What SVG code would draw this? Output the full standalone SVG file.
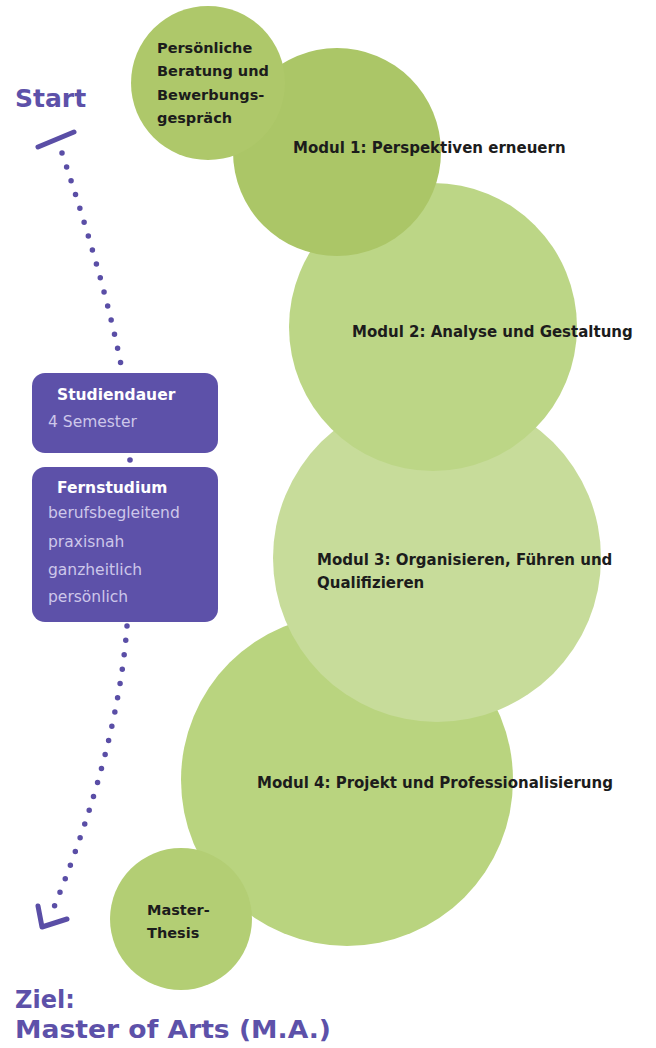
<svg xmlns="http://www.w3.org/2000/svg" width="656" height="1048" viewBox="0 0 656 1048">
<style>
.lbl{font-family:"DejaVu Sans","Liberation Sans",sans-serif;font-weight:bold;font-size:15px;fill:#1c1c1c}
.sm{font-size:14.5px}
.big{font-family:"DejaVu Sans","Liberation Sans",sans-serif;font-weight:bold;fill:#5d51a9}
.bh{font-family:"DejaVu Sans","Liberation Sans",sans-serif;font-weight:bold;font-size:15.5px;fill:#ffffff}
.bt{font-family:"DejaVu Sans","Liberation Sans",sans-serif;font-size:15.5px;fill:#cdc7ea}
.box{fill:#5d51a9}
.dots{fill:none;stroke:#5a4ea6;stroke-width:5.5;stroke-linecap:round;stroke-dasharray:0 14.5}
.bar{fill:none;stroke:#5a4ea6;stroke-width:5;stroke-linecap:round;stroke-linejoin:round}
</style>
<rect width="656" height="1048" fill="#ffffff"/>

<g id="modul4"><circle cx="347" cy="780" r="166" fill="#b9d47f"/></g>
<g id="modul3"><circle cx="437" cy="558" r="164" fill="#c7dc9a"/></g>
<g id="modul2"><circle cx="433" cy="327" r="144" fill="#bcd686"/></g>
<g id="modul1"><circle cx="337" cy="152" r="104" fill="#abc667"/></g>
<g id="beratung"><circle cx="208" cy="83" r="77" fill="#aec86a"/></g>
<g id="thesis"><circle cx="181" cy="919" r="71" fill="#b3ce74"/></g>

<g id="labels">
<text class="lbl sm" x="157" y="53">Persönliche</text>
<text class="lbl sm" x="157" y="76">Beratung und</text>
<text class="lbl sm" x="157" y="100">Bewerbungs-</text>
<text class="lbl sm" x="157" y="123">gespräch</text>
<text class="lbl" x="293" y="153">Modul 1: Perspektiven erneuern</text>
<text class="lbl" x="352" y="337">Modul 2: Analyse und Gestaltung</text>
<text class="lbl" x="317" y="565">Modul 3: Organisieren, Führen und</text>
<text class="lbl" x="317" y="588">Qualifizieren</text>
<text class="lbl" x="257" y="788">Modul 4: Projekt und Professionalisierung</text>
<text class="lbl sm" x="147" y="915">Master-</text>
<text class="lbl sm" x="147" y="938">Thesis</text>
</g>

<g id="connectors">
<line class="bar" x1="38" y1="147" x2="74" y2="132"/>
<path class="dots" d="M62 153 Q106 285 122 370"/>
<circle cx="130" cy="460" r="2.8" fill="#5a4ea6"/>
<path class="dots" d="M127 626 C120 720 90 820 52 912"/>
<polyline class="bar" points="38,906 42,927 67,919"/>
</g>

<g id="studiendauer">
<rect class="box" x="32" y="373" width="186" height="80" rx="13"/>
<text class="bh" x="57" y="400">Studiendauer</text>
<text class="bt" x="48" y="427">4 Semester</text>
</g>
<g id="fernstudium">
<rect class="box" x="32" y="467" width="186" height="155" rx="13"/>
<text class="bh" x="57" y="493">Fernstudium</text>
<text class="bt" x="48" y="518">berufsbegleitend</text>
<text class="bt" x="48" y="547">praxisnah</text>
<text class="bt" x="48" y="575">ganzheitlich</text>
<text class="bt" x="48" y="602">persönlich</text>
</g>

<g id="start"><text class="big" x="15" y="107" font-size="25">Start</text></g>
<g id="ziel">
<text class="big" x="15" y="1008" font-size="24">Ziel:</text>
<text class="big" x="15" y="1038" font-size="24" textLength="316" lengthAdjust="spacingAndGlyphs">Master of Arts (M.A.)</text>
</g>
</svg>
